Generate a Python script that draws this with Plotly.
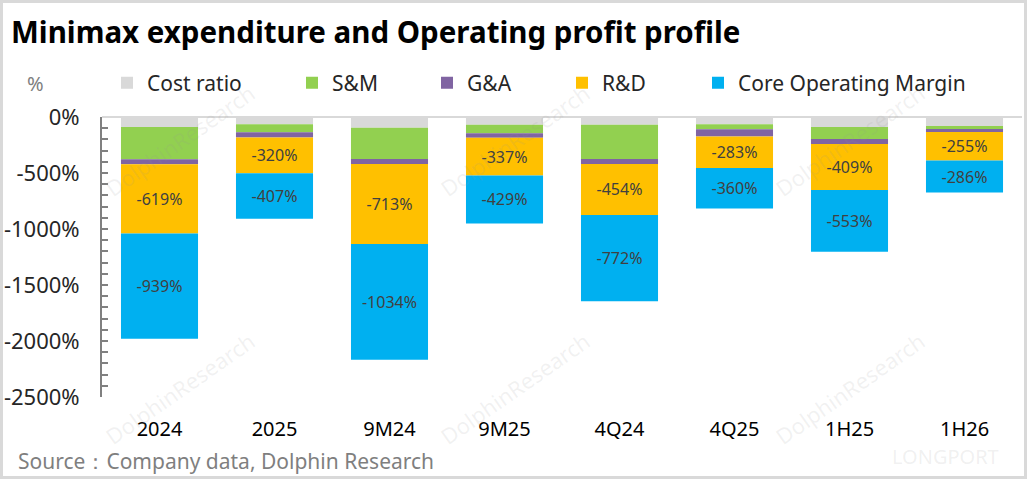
import plotly.graph_objects as go

categories = ["2024", "2025", "9M24", "9M25", "4Q24", "4Q25", "1H25", "1H26"]
cost_ratio = [-90, -65, -95, -70, -70, -65, -90, -80]
sm = [-287, -72, -280, -75, -305, -45, -107, -27]
ga = [-45, -45, -45, -40, -45, -63, -45, -27]
rd = [-619, -320, -713, -337, -454, -283, -409, -255]
core = [-939, -407, -1034, -429, -772, -360, -553, -286]

y_tickvals = [0, -500, -1000, -1500, -2000, -2500]
y_ticktext = ["0%", "-500%", "-1000%", "-1500%", "-2000%", "-2500%"]

FONT = "Noto Sans"
W, H = 1027, 479
ML, MR, MT, MB = 102, 5, 117, 82
PW, PH = W - ML - MR, H - MT - MB


def px(x):
    return (x - ML) / PW


def py(y):
    return (H - MB - y) / PH


fig = go.Figure()
series = [
    ("Cost ratio", cost_ratio, "#d9d9d9", False, "legend"),
    ("S&M", sm, "#92d050", False, "legend2"),
    ("G&A", ga, "#8064a2", False, "legend2"),
    ("R&D", rd, "#ffc000", True, "legend2"),
    ("Core Operating Margin", core, "#00b0f0", True, "legend3"),
]
for name, vals, color, labelled, lg in series:
    fig.add_trace(go.Bar(
        name=name, x=categories, y=vals,
        marker=dict(color=color, line=dict(width=0)),
        text=[f"{v}%" for v in vals] if labelled else None,
        textposition="inside" if labelled else "none",
        insidetextanchor="middle",
        textangle=0,
        textfont=dict(family=FONT, size=16, color="#404040"),
        legend=lg,
        showlegend=True,
    ))

annotations = [
    dict(text="%", x=px(35), y=py(83), xref="paper", yref="paper",
         showarrow=False, xanchor="center", yanchor="middle",
         font=dict(family=FONT, size=20, color="#808080")),
    dict(text="Source：Company data, Dolphin Research", x=px(16), y=py(461),
         xref="paper", yref="paper", showarrow=False, xanchor="left", yanchor="middle",
         font=dict(family=FONT, size=21, color="#7f7f7f")),
    dict(text="LONGPORT", x=px(945), y=py(456), xref="paper", yref="paper",
         showarrow=False, xanchor="center", yanchor="middle",
         font=dict(family=FONT, size=20, color="rgba(150,150,150,0.15)")),
]
for cx in (180, 515, 850):
    for cy in (140, 388):
        annotations.append(dict(
            text="DolphinResearch", x=px(cx), y=py(cy), xref="paper", yref="paper",
            showarrow=False, textangle=-35, xanchor="center", yanchor="middle",
            font=dict(family=FONT, size=22, color="rgba(150,150,150,0.13)")))

legend_font = dict(family=FONT, size=21, color="#262626")
fig.update_layout(
    width=W, height=H,
    margin=dict(l=ML, r=MR, t=MT, b=MB, autoexpand=False),
    paper_bgcolor="white", plot_bgcolor="white",
    barmode="relative", bargap=0.33,
    showlegend=True,
    title=dict(text="<b>Minimax expenditure and Operating profit profile</b>",
               x=11 / W, xref="container", xanchor="left",
               y=1 - 33 / H, yref="container", yanchor="middle",
               font=dict(family=FONT, size=29.5, color="black")),
    font=dict(family=FONT, color="#262626"),
    legend=dict(orientation="h", x=px(107), y=py(83), xanchor="left", yanchor="middle",
                font=legend_font, bgcolor="rgba(0,0,0,0)"),
    legend2=dict(orientation="h", x=px(292), y=py(83), xanchor="left", yanchor="middle",
                 font=legend_font, entrywidth=90, entrywidthmode="pixels",
                 bgcolor="rgba(0,0,0,0)", traceorder="normal"),
    legend3=dict(orientation="h", x=px(698), y=py(83), xanchor="left", yanchor="middle",
                 font=legend_font, bgcolor="rgba(0,0,0,0)"),
    xaxis=dict(showline=False, ticks="", showgrid=False, automargin=False,
               tickfont=dict(family=FONT, size=20, color="#000000"),
               ticklabelstandoff=18),
    yaxis=dict(range=[-2500, 0], tickvals=y_tickvals, ticktext=y_ticktext,
               automargin=False,
               showgrid=False, zeroline=True, zerolinecolor="#d9d9d9", zerolinewidth=2,
               showline=True, linecolor="#808080", linewidth=2,
               ticks="inside", ticklen=6, tickcolor="#808080", tickwidth=1.5,
               minor=dict(dtick=100, ticks="inside", ticklen=6, tickcolor="#808080", tickwidth=1.5),
               tickfont=dict(family=FONT, size=22, color="#262626"),
               ticklabelstandoff=16),
    annotations=annotations,
    shapes=[dict(type="rect", xref="paper", yref="paper",
                 x0=px(1.5), x1=px(1025.5), y0=py(477.5), y1=py(1.5),
                 line=dict(color="#d9d9d9", width=3), fillcolor="rgba(0,0,0,0)",
                 layer="below")],
)

fig.write_html(
    "out.html",
    config={"displayModeBar": False},
    post_script="document.body.style.margin='0';document.body.style.overflow='hidden';",
)
